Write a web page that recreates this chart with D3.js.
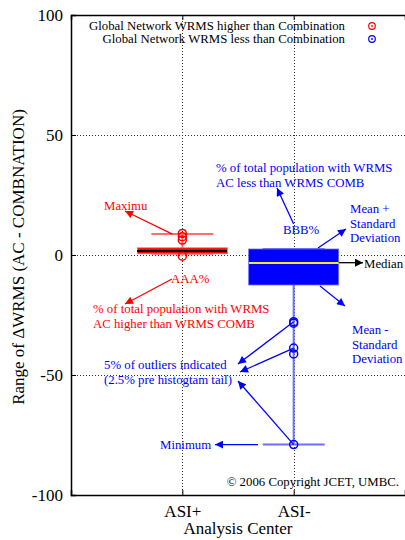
<!DOCTYPE html>
<html><head><meta charset="utf-8">
<script src="https://cdn.jsdelivr.net/npm/d3@7"></script>
<style>body{margin:0;background:#fff}svg{display:block}</style>
</head><body><script>
// ---- data ----
const categories = ["ASI+", "ASI-"];
const q1 = [0.5, -12.5];
const q3 = [3, 2.5];
const medians = [1.5, -3.2];
const whiskerLow = [0.5, -79];
const whiskerHigh = [8.7, 2.5];
const outliers = [[9, 7.6, 6.2, -0.5], [-27.8, -28.4, -38.8, -41.2, -79]];
const yTicks = [100, 50, 0, -50, -100];
const gridTicks = [50, 0, -50];
const legendLabels = ["Global Network WRMS higher than Combination", "Global Network WRMS less than Combination"];
const seriesColors = ["#ff0000", "#0000ff"];

// ---- layout ----
const FONT = "Liberation Serif, Times New Roman, serif";
const W = 405, H = 540;
const m = {left: 71, right: 0, top: 15, bottom: 45};
const svg = d3.select("body").append("svg").attr("width", W).attr("height", H).attr("font-family", FONT);
const x = d3.scaleLinear().domain([0, 3]).range([m.left, W - m.right]);
const y = d3.scaleLinear().domain([-100, 100]).range([H - m.bottom, m.top]);
const xc = i => x(i + 1);

// markers
const defs = svg.append("defs");
[["red", "#ff0000"], ["blue", "#0000ff"], ["black", "#000"]].forEach(([n, c]) => {
  defs.append("marker").attr("id", "ah-" + n).attr("viewBox", "0 0 10 10")
    .attr("refX", 10).attr("refY", 5).attr("markerWidth", 10).attr("markerHeight", 8)
    .attr("markerUnits", "userSpaceOnUse").attr("orient", "auto")
    .append("path").attr("d", "M0,0 L10,5 L0,10 z").attr("fill", c);
});

// grid
const g = svg.append("g");
g.selectAll(".hg").data(gridTicks).join("line")
  .attr("x1", x(0)).attr("x2", x(3)).attr("y1", d => Math.round(y(d)) + 0.5).attr("y2", d => Math.round(y(d)) + 0.5)
  .attr("stroke", "#333").attr("stroke-width", 1).attr("stroke-dasharray", "1,2");
g.selectAll(".vg").data(categories).join("line")
  .attr("x1", (d, i) => Math.round(xc(i)) + 0.5).attr("x2", (d, i) => Math.round(xc(i)) + 0.5).attr("y1", y(100)).attr("y2", y(-100))
  .attr("stroke", "#333").attr("stroke-width", 1).attr("stroke-dasharray", "1,2");

// axes
const yAxis = d3.axisLeft(y).tickValues(yTicks).tickFormat(d => String(d)).tickSize(-5).tickPadding(8);
const ya = svg.append("g").attr("transform", `translate(${x(0)},0)`).call(yAxis);
ya.attr("font-family", FONT);
ya.select(".domain").attr("stroke", "#000").attr("stroke-width", 1.5);
ya.selectAll("text").attr("font-size", 17).attr("fill", "#000");
const xAxis = d3.axisBottom(x).tickValues([1, 2]).tickFormat((d) => categories[d - 1]).tickSize(-5).tickPadding(10);
const xa = svg.append("g").attr("transform", `translate(0,${y(-100)})`).call(xAxis);
xa.attr("font-family", FONT);
xa.select(".domain").attr("stroke", "#000").attr("stroke-width", 1.5);
xa.selectAll("text").attr("font-size", 17).attr("fill", "#000");
const xTop = d3.axisTop(x).tickValues([1, 2]).tickFormat("").tickSize(-5);
const xt = svg.append("g").attr("transform", `translate(0,${y(100)})`).call(xTop);
xt.select(".domain").attr("stroke", "#000").attr("stroke-width", 1.5);

// axis titles
svg.append("text").attr("x", 238).attr("y", 534).attr("text-anchor", "middle")
  .attr("font-size", 17).text("Analysis Center");
svg.append("text").attr("transform", `translate(24,${y(0) + 2}) rotate(-90)`).attr("text-anchor", "middle")
  .attr("font-size", 17).text("Range of \u0394WRMS (AC - COMBNATION)");

// boxes
const capW = 31, boxW = 45;
const capColors = ["#ff6f6f", "#6f6fff"];
const medColors = ["#000000", "#f5e82a"];
categories.forEach((c, i) => {
  const cx = xc(i);
  const lowEnd = Math.min(whiskerLow[i], d3.min(outliers[i]) > whiskerLow[i] - 5 ? d3.min(outliers[i]) : whiskerLow[i]);
  svg.append("line").attr("x1", cx).attr("x2", cx).attr("y1", y(lowEnd)).attr("y2", y(whiskerHigh[i]))
    .attr("stroke", capColors[i]).attr("stroke-width", 2);
  [whiskerLow[i], whiskerHigh[i]].forEach(v => {
    svg.append("line").attr("x1", cx - capW).attr("x2", cx + capW).attr("y1", y(v)).attr("y2", y(v))
      .attr("stroke", capColors[i]).attr("stroke-width", 2);
  });
  svg.append("rect").attr("x", cx - boxW).attr("width", 2 * boxW)
    .attr("y", y(q3[i])).attr("height", y(q1[i]) - y(q3[i]))
    .attr("fill", seriesColors[i]).attr("stroke", capColors[i]).attr("stroke-width", 0.8);
  svg.append("line").attr("x1", cx - boxW).attr("x2", cx + boxW)
    .attr("y1", Math.round(y(medians[i]))).attr("y2", Math.round(y(medians[i])))
    .attr("stroke", medColors[i]).attr("stroke-width", 2).attr("shape-rendering", "crispEdges");
  svg.selectAll(null).data(outliers[i]).join("circle")
    .attr("cx", cx).attr("cy", d => y(d)).attr("r", 4)
    .attr("fill", "none").attr("stroke", seriesColors[i]).attr("stroke-width", 1.5);
});

// legend
legendLabels.forEach((t, i) => {
  const ly = 30 + i * 13;
  svg.append("text").attr("x", 345).attr("y", ly).attr("text-anchor", "end").attr("font-size", 12.8).text(t);
  svg.append("circle").attr("cx", 372).attr("cy", ly - 4).attr("r", 3.3).attr("fill", "none")
    .attr("stroke", seriesColors[i]).attr("stroke-width", 1.2);
  svg.append("circle").attr("cx", 372).attr("cy", ly - 4).attr("r", 0.9).attr("fill", seriesColors[i]);
});

// annotations
function arrow(x1, y1, x2, y2, col) {
  svg.append("line").attr("x1", x1).attr("y1", y1).attr("x2", x2).attr("y2", y2)
    .attr("stroke", col === "black" ? "#000" : (col === "red" ? "#ff0000" : "#0000ff"))
    .attr("stroke-width", 1.3).attr("marker-end", `url(#ah-${col})`);
}
function label(lines, x0, y0, col, size, anchor) {
  const t = svg.append("text").attr("x", x0).attr("y", y0).attr("fill", col)
    .attr("font-size", size).attr("text-anchor", anchor || "start");
  lines.forEach((l, k) => t.append("tspan").attr("x", x0).attr("dy", k ? size * 1.15 : 0).text(l));
}
const red = "#ff0000", blue = "#0000ff";
const fs = 12.8;
// red
label(["Maximu"], 104, 210, red, fs);
arrow(xc(0) - 10, y(whiskerHigh[0]), 125, 211, "red");
label(["AAA%"], 171, 283, red, fs);
arrow(172, 279, 125, 304, "red");
label(["% of total population with WRMS", "AC higher than WRMS COMB"], 93, 313, red, fs);
// blue
label(["% of total population with WRMS", "AC less than WRMS COMB"], 216, 172, blue, fs);
arrow(xc(1), 224, 277, 188, "blue");
label(["BBB%"], 283, 234, blue, fs);
arrow(318, y(q3[1]) - 1, 346, 229, "blue");
label(["Mean +", "Standard", "Deviation"], 350, 213, blue, fs);
arrow(xc(1) + boxW, y(medians[1]), 363, y(medians[1]), "black");
label(["Median"], 364, 268, "#000", fs);
arrow(320, y(q1[1]) + 1, 345, 306, "blue");
label(["Mean -", "Standard", "Deviation"], 352, 334, blue, fs);
label(["5% of outliers indicated", "(2.5% pre histogtam tail)"], 104, 369, blue, fs);
arrow(xc(1), y(outliers[1][0]), 238, 364, "blue");
arrow(xc(1), y(outliers[1][2]), 240, 372, "blue");
arrow(xc(1), y(whiskerLow[1]), 238, 381, "blue");
label(["Minimum"], 160, 449, blue, fs);
arrow(258, y(whiskerLow[1]), 215, y(whiskerLow[1]), "blue");
label(["\u00A9  2006 Copyright JCET, UMBC."], 399, 486, "#000", fs, "end");
</script></body></html>
